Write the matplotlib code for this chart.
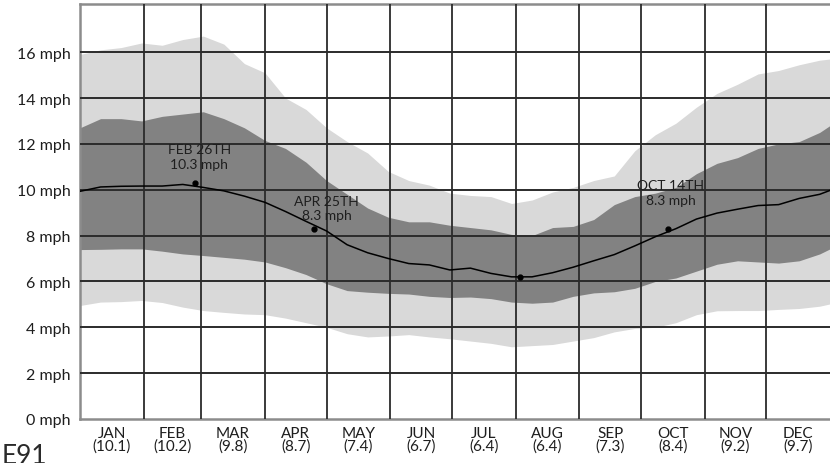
#=======================#
# Libraries importation #
#=======================#

import matplotlib
matplotlib.use("Agg")
import matplotlib.pyplot as plt
from matplotlib import font_manager

#==================#
# Global variables #
#==================#

LIGHT_GRAY = "#d9d9d9"
DARK_GRAY = "#828282"
GRID_COLOR = "#2b2b2b"
SPINE_COLOR = "#8c8c8c"
TEXT_COLOR = "#1e1e1e"

days = [0, 10, 20, 30, 40, 50, 60, 70, 80, 90, 100, 110, 120, 130, 140, 150,
        160, 170, 180, 190, 200, 210, 220, 230, 240, 250, 260, 270, 280, 290,
        300, 310, 320, 330, 340, 350, 360, 365]

p90 = [15.9, 16.1, 16.2, 16.4, 16.3, 16.55, 16.7, 16.35, 15.5, 15.1, 14.0, 13.5,
       12.7, 12.1, 11.6, 10.8, 10.4, 10.2, 9.85, 9.75, 9.7, 9.4, 9.55, 9.9,
       10.1, 10.4, 10.6, 11.7, 12.4, 12.9, 13.6, 14.2, 14.6, 15.05, 15.2, 15.45,
       15.65, 15.7]

p75 = [12.7, 13.1, 13.1, 13.0, 13.2, 13.3, 13.4, 13.1, 12.7, 12.15, 11.8, 11.2,
       10.4, 9.8, 9.2, 8.8, 8.6, 8.6, 8.45, 8.35, 8.25, 8.05, 8.0, 8.35,
       8.4, 8.7, 9.35, 9.7, 9.85, 10.1, 10.7, 11.15, 11.4, 11.8, 12.0, 12.1,
       12.5, 12.8]

median = [9.93, 10.12, 10.15, 10.16, 10.16, 10.23, 10.1, 9.95, 9.72, 9.45, 9.05,
          8.62, 8.2, 7.6, 7.25, 7.0, 6.78, 6.72, 6.5, 6.58, 6.35, 6.2, 6.2,
          6.38, 6.62, 6.9, 7.17, 7.55, 7.95, 8.3, 8.72, 8.98, 9.15, 9.31, 9.35,
          9.62, 9.8, 9.97]

p25 = [7.39, 7.4, 7.42, 7.42, 7.32, 7.2, 7.13, 7.05, 6.97, 6.85, 6.6, 6.3,
       5.9, 5.6, 5.53, 5.48, 5.45, 5.35, 5.3, 5.32, 5.25, 5.1, 5.05, 5.1,
       5.35, 5.5, 5.55, 5.7, 6.0, 6.15, 6.45, 6.75, 6.9, 6.85, 6.8, 6.9,
       7.2, 7.42]

p10 = [4.95, 5.1, 5.12, 5.17, 5.08, 4.88, 4.73, 4.65, 4.58, 4.55, 4.4, 4.2,
       4.0, 3.72, 3.58, 3.62, 3.68, 3.58, 3.5, 3.4, 3.3, 3.15, 3.2, 3.25,
       3.4, 3.55, 3.8, 3.95, 4.0, 4.2, 4.55, 4.72, 4.73, 4.73, 4.78, 4.82,
       4.92, 5.02]

months = ["JAN", "FEB", "MAR", "APR", "MAY", "JUN",
          "JUL", "AUG", "SEP", "OCT", "NOV", "DEC"]
month_days = [31, 28, 31, 30, 31, 30, 31, 31, 30, 31, 30, 31]
month_means = ["10.1", "10.2", "9.8", "8.7", "7.4", "6.7",
               "6.4", "6.4", "7.3", "8.4", "9.2", "9.7"]

# highlighted days on the median line
mark_days = [56, 114, 214, 286]
mark_values = [10.3, 8.3, 6.2, 8.3]
mark_labels = ["FEB 26TH\n10.3 mph", "APR 25TH\n8.3 mph", None, "OCT 14TH\n8.3 mph"]

y_ticks = [0, 2, 4, 6, 8, 10, 12, 14, 16]

# where each label block sits relative to its dot (points)
LABEL_OFFSETS = [(3, 19), (9, 15), None, (2, 26)]


def pick_font(candidates):
    """ Returns the first installed family of the list. """
    installed = {f.name for f in font_manager.fontManager.ttflist}
    for name in candidates:
        if name in installed:
            return name
    return "DejaVu Sans"


FONT = pick_font(["Lato", "Open Sans", "DejaVu Sans"])
plt.rcParams["font.family"] = FONT

#==========#
# Plotting #
#==========#

fig = plt.figure(figsize=(8.3, 4.64), dpi=100)
ax = fig.add_axes([80 / 830, 44 / 464, 750 / 830, 415 / 464])

ax.fill_between(days, p10, p90, color=LIGHT_GRAY, linewidth=0, zorder=1)
ax.fill_between(days, p25, p75, color=DARK_GRAY, linewidth=0, zorder=2)

# grid: month boundaries and every 2 mph
starts = [sum(month_days[:i]) for i in range(len(month_days))]
for s in starts[1:]:
    ax.axvline(s, color=GRID_COLOR, linewidth=1.3, zorder=3)
for y in y_ticks[1:]:
    ax.axhline(y, color=GRID_COLOR, linewidth=1.4, zorder=3)

ax.plot(days, median, color="black", linewidth=1.1, zorder=4)
ax.plot(mark_days, mark_values, "o", color="black", markersize=3.5, zorder=5)

for d, v, lab, off in zip(mark_days, mark_values, mark_labels, LABEL_OFFSETS):
    if lab is None:
        continue
    ax.annotate(lab, (d, v), xytext=off, textcoords="offset points",
                ha="center", va="center", fontsize=10, color=TEXT_COLOR,
                linespacing=1.25, zorder=6)

ax.set_xlim(0, 365)
ax.set_ylim(0, 18.1)

ax.set_yticks(y_ticks)
ax.set_yticklabels([f"{v} mph" for v in y_ticks])

centers = [s + n / 2 for s, n in zip(starts, month_days)]
ax.set_xticks(centers)
ax.set_xticklabels([f"{m}\n({v})" for m, v in zip(months, month_means)],
                   linespacing=0.9)

ax.tick_params(axis="both", length=0, labelsize=11, colors=TEXT_COLOR)
ax.tick_params(axis="y", pad=7, labelsize=11.5)
ax.tick_params(axis="x", pad=5)

for side in ["left", "bottom", "top"]:
    ax.spines[side].set_color(SPINE_COLOR)
    ax.spines[side].set_linewidth(1.8)
ax.spines["right"].set_visible(False)

# leftover page number, cut by the bottom edge
fig.text(0.002, 1 - 444 / 464, "E91", ha="left", va="top", fontsize=19,
         color="#2a2a2a")

fig.savefig("out.png", dpi=100)
